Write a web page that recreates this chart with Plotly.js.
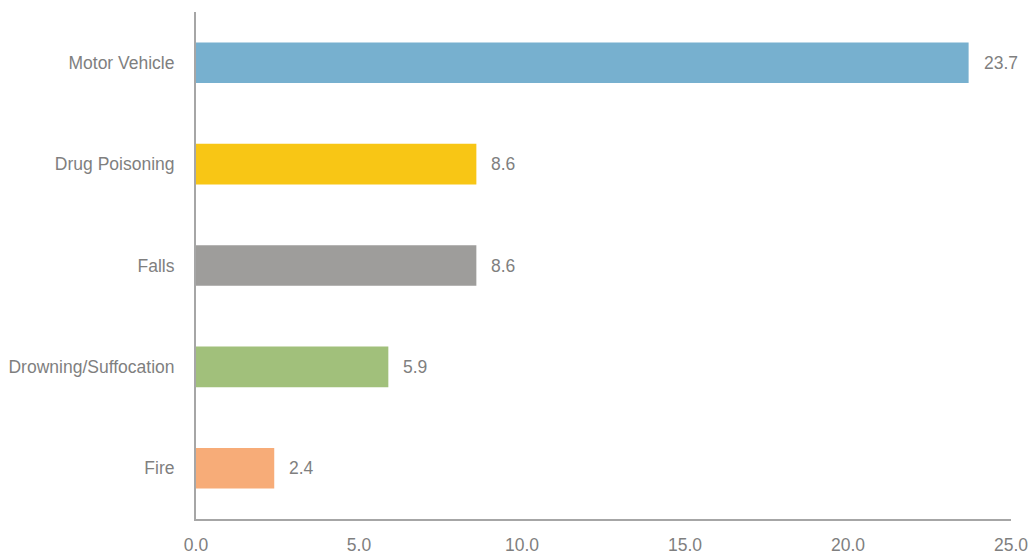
<!DOCTYPE html>
<html>
<head>
<meta charset="utf-8">
<script src="https://cdn.plot.ly/plotly-3.0.1.min.js"></script>
<style>html,body{margin:0;padding:0;background:#fff;}#chart{width:1031px;height:554px;}</style>
</head>
<body>
<div id="chart"></div>
<script>
const categories = ["Motor Vehicle", "Drug Poisoning", "Falls", "Drowning/Suffocation", "Fire"];
const values = [23.7, 8.6, 8.6, 5.9, 2.4];
const barColors = ["#77b0cf", "#f8c615", "#9e9d9b", "#a1c07b", "#f7ac78"];
const xTickVals = [0, 5, 10, 15, 20, 25];
const xTickText = ["0.0", "5.0", "10.0", "15.0", "20.0", "25.0"];

const FONT = "'Liberation Sans Narrow', 'Arial Narrow', 'Liberation Sans', Arial, sans-serif";
const TXT = "#7f7f7f";
const FS = 17.5;

const trace = {
  type: "bar",
  orientation: "h",
  y: categories,
  x: values,
  marker: {color: barColors},
  width: 0.4,
  hoverinfo: "none"
};

const annotations = categories.map((c, i) => ({
  x: values[i], y: c, xref: "x", yref: "y",
  text: values[i].toFixed(1),
  showarrow: false, xanchor: "left", yanchor: "middle", xshift: 13,
  font: {family: FONT, size: FS, color: TXT}
}));

const layout = {
  width: 1031, height: 554,
  margin: {l: 196, r: 20, t: 12, b: 35},
  paper_bgcolor: "#fff", plot_bgcolor: "#fff",
  showlegend: false,
  font: {family: FONT, size: FS, color: TXT},
  xaxis: {
    range: [0, 25], tickvals: xTickVals, ticktext: xTickText,
    showgrid: false, zeroline: false,
    showline: true, linecolor: "#a6a6a6", linewidth: 2,
    ticks: "", ticklabelstandoff: 9, ticklabeloverflow: "allow",
    tickfont: {family: FONT, size: FS, color: TXT}
  },
  yaxis: {
    type: "category", autorange: "reversed",
    showgrid: false, zeroline: false,
    showline: true, linecolor: "#a6a6a6", linewidth: 2,
    ticks: "", ticklabelstandoff: 16,
    tickfont: {family: FONT, size: FS, color: TXT}
  },
  annotations: annotations
};

Plotly.newPlot("chart", [trace], layout, {displayModeBar: false, staticPlot: true});
</script>
</body>
</html>
